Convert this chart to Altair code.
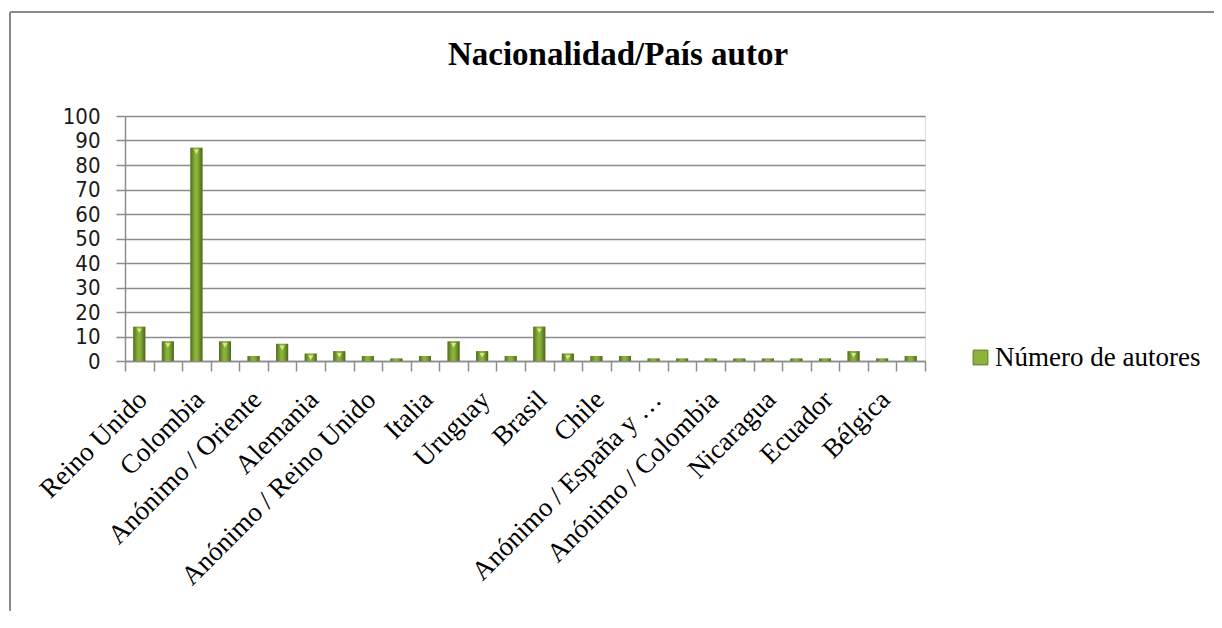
import json
import altair as alt
import pandas as pd

# ---- data ----
positions = list(range(1, 29))
tick_labels = [
    "Reino Unido", "", "Colombia", "", "Anónimo / Oriente", "", "Alemania", "",
    "Anónimo / Reino Unido", "", "Italia", "", "Uruguay", "", "Brasil", "",
    "Chile", "", "Anónimo / España y …", "", "Anónimo / Colombia", "",
    "Nicaragua", "", "Ecuador", "", "Bélgica", "",
]
values = [14, 8, 87, 8, 2, 7, 3, 4, 2, 1, 2, 8, 4, 2, 14,
          3, 2, 2, 1, 1, 1, 1, 1, 1, 1, 4, 1, 2]
series_name = "Número de autores"
y_ticks = list(range(0, 101, 10))
chart_title = "Nacionalidad/País autor"

df = pd.DataFrame({"pos": positions, "v": values, "serie": [series_name] * len(values)})

label_expr = json.dumps(tick_labels, ensure_ascii=False) + "[datum.value - 1]"

GRID = "#8c8c8c"
SERIF = "Liberation Serif"
SANS = "Liberation Sans Narrow, DejaVu Sans Condensed, sans-serif"

x_enc = alt.X(
    "pos:O",
    title=None,
    scale=alt.Scale(paddingInner=0, paddingOuter=0),
    axis=alt.Axis(
        labelExpr=label_expr,
        labelAngle=-45,
        labelAlign="right",
        labelBaseline="top",
        labelFont=SERIF,
        labelFontSize=27,
        labelColor="#000000",
        labelPadding=15,
        labelOffset=-6,
        labelOverlap=False,
        labelLimit=500,
        tickBand="extent",
        tickSize=10,
        tickColor=GRID,
        tickWidth=1.5,
        domainColor=GRID,
        domainWidth=1.5,
        grid=False,
    ),
)
y_enc = alt.Y(
    "v:Q",
    title=None,
    scale=alt.Scale(domain=[0, 100], nice=False),
    axis=alt.Axis(
        values=y_ticks,
        grid=True,
        gridColor=GRID,
        gridWidth=1.5,
        tickSize=9,
        tickColor=GRID,
        tickWidth=1.5,
        domainColor=GRID,
        domainWidth=1.5,
        labelFont=SANS,
        labelFontSize=22,
        labelColor="#1a1a1a",
        labelPadding=16,
        labelOverlap=False,
        labelFlush=False,
        labelBound=False,
    ),
)

base_bars = alt.Chart(df).mark_bar(size=12).encode(
    x=x_enc,
    y=y_enc,
    color=alt.Color(
        "serie:N",
        scale=alt.Scale(range=["#8db33a"]),
        legend=alt.Legend(
            title=None,
            orient="none",
            legendX=842,
            legendY=228,
            symbolType="square",
            symbolSize=220,
            symbolStrokeColor="#5f7a2a",
            symbolStrokeWidth=1,
            labelFont=SERIF,
            labelFontSize=27,
            labelColor="#000000",
            labelOffset=1,
            labelLimit=500,
        ),
    ),
)

grad = alt.LinearGradient(
    gradient="linear",
    stops=[
        alt.GradientStop(color="#526d1f", offset=0),
        alt.GradientStop(color="#8cb43c", offset=0.4),
        alt.GradientStop(color="#86ad37", offset=0.6),
        alt.GradientStop(color="#4b651b", offset=1),
    ],
    x1=0, x2=1, y1=0, y2=0,
)

grad_bars = alt.Chart(df).mark_bar(size=12, color=grad).encode(x=x_enc, y=y_enc)

tops = alt.Chart(df).transform_filter("datum.v >= 3").mark_point(
    shape="triangle-down", filled=True, color="#d6ec8e", size=28, yOffset=4, opacity=0.95
).encode(x=x_enc, y=y_enc)

border_df = pd.DataFrame({"k": [0]})
border_left = alt.Chart(border_df).mark_rule(color="#8a8a8a", strokeWidth=2).encode(
    x=alt.value(-115), x2=alt.value(-115), y=alt.value(-104), y2=alt.value(520)
)
border_top = alt.Chart(border_df).mark_rule(color="#8a8a8a", strokeWidth=2).encode(
    x=alt.value(-115), x2=alt.value(1094), y=alt.value(-104), y2=alt.value(-104)
)
border_right = alt.Chart(border_df).mark_rule(color="#8a8a8a", strokeWidth=2).encode(
    x=alt.value(1094), x2=alt.value(1094), y=alt.value(-104), y2=alt.value(520)
)

chart = (
    alt.layer(base_bars, grad_bars, tops, border_left, border_top, border_right)
    .properties(
        width=800,
        height=245,
        autosize=alt.AutoSizeParams(type="none"),
        padding={"left": 117, "top": 108, "right": 289, "bottom": 250},
        title=alt.TitleParams(
            chart_title,
            font=SERIF,
            fontSize=33,
            fontWeight="bold",
            color="#000000",
            anchor="middle",
            offset=0,
            dy=61,
            dx=93,
        ),
    )
    .configure_view(stroke=None)
    .configure(background="#ffffff")
)

chart.save("out.html", embed_options={"renderer": "svg", "actions": False})
